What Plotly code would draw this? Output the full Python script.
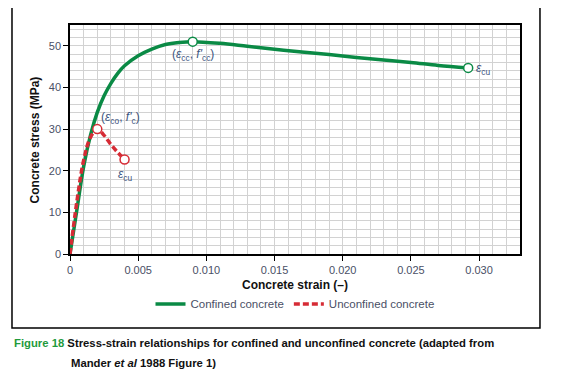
import plotly.graph_objects as go

# Confined concrete
conf_strain = [0, 0.0005, 0.001, 0.0015, 0.002, 0.0025, 0.003, 0.0035, 0.004, 0.005, 0.006, 0.007,
               0.008, 0.009, 0.011, 0.013, 0.015, 0.017, 0.019, 0.021, 0.023, 0.025, 0.027, 0.0292]
conf_stress = [0, 10.5, 21, 28.5, 34, 38, 41, 43.4, 45.2, 47.6, 49.2, 50.3,
               50.8, 51, 50.6, 49.9, 49.2, 48.5, 47.9, 47.2, 46.6, 46.0, 45.3, 44.7]
# Unconfined concrete
unconf_strain = [0, 0.0005, 0.001, 0.0015, 0.002, 0.0025, 0.003, 0.0035, 0.004]
unconf_stress = [0, 12.5, 22.5, 28, 30, 28.5, 26.3, 24.4, 22.7]

# Key points
conf_pts_x = [0.009, 0.0292]
conf_pts_y = [51, 44.7]
unconf_pts_x = [0.002, 0.004]
unconf_pts_y = [30, 22.7]

x_ticks = [0, 0.005, 0.010, 0.015, 0.020, 0.025, 0.030]
x_ticklabels = ["0", "0.005", "0.010", "0.015", "0.020", "0.025", "0.030"]
y_ticks = [0, 10, 20, 30, 40, 50]

GREEN = "#0a8a45"
RED = "#d62b35"
FONT = "Liberation Sans, Arial, sans-serif"
TICKC = "#4a4f66"
LABC = "#3d5580"

fig = go.Figure()
fig.add_trace(go.Scatter(x=conf_strain, y=conf_stress, mode="lines", name="Confined concrete",
                         line=dict(color=GREEN, width=3.5, shape="spline")))
fig.add_trace(go.Scatter(x=unconf_strain, y=unconf_stress, mode="lines", name="Unconfined concrete",
                         line=dict(color=RED, width=3.5, dash="6px,3px", shape="spline")))
fig.add_trace(go.Scatter(x=conf_pts_x, y=conf_pts_y, mode="markers", showlegend=False,
                         marker=dict(symbol="circle", size=9, color="white", line=dict(color=GREEN, width=1.5))))
fig.add_trace(go.Scatter(x=unconf_pts_x, y=unconf_pts_y, mode="markers", showlegend=False,
                         marker=dict(symbol="circle", size=9, color="white", line=dict(color=RED, width=1.5))))

ann_font = dict(family=FONT, size=12, color=LABC)
anns = [
    dict(x=conf_pts_x[0], y=conf_pts_y[0], xref="x", yref="y", text="(<i>ε</i><sub>cc</sub>, <i>f'</i><sub>cc</sub>)",
         showarrow=False, xanchor="center", yanchor="top", yshift=-3, font=ann_font),
    dict(x=conf_pts_x[1], y=conf_pts_y[1], xref="x", yref="y", text="<i>ε</i><sub>cu</sub>",
         showarrow=False, xanchor="left", yanchor="middle", xshift=6, yshift=-1, font=ann_font),
    dict(x=unconf_pts_x[0], y=unconf_pts_y[0], xref="x", yref="y", text="(<i>ε</i><sub>co</sub>, <i>f'</i><sub>c</sub>)",
         showarrow=False, xanchor="left", yanchor="bottom", xshift=2, yshift=1, font=ann_font),
    dict(x=unconf_pts_x[1], y=unconf_pts_y[1], xref="x", yref="y", text="<i>ε</i><sub>cu</sub>",
         showarrow=False, xanchor="center", yanchor="top", yshift=-6, font=ann_font),
    dict(x=0.5, y=-0.135, xref="paper", yref="paper", text="<b>Concrete strain (–)</b>", showarrow=False,
         xanchor="center", yanchor="middle", font=dict(family=FONT, size=12, color="#111")),
    dict(x=-0.078, y=0.5, xref="paper", yref="paper", text="<b>Concrete stress (MPa)</b>", showarrow=False,
         textangle=-90, xanchor="center", yanchor="middle", font=dict(family=FONT, size=12, color="#111")),
    dict(x=-0.1289, y=-0.3886, xref="paper", yref="paper",
         text="<b><span style='color:#1f9a3c'>Figure 18</span> Stress-strain relationships for confined and unconfined concrete (adapted from</b>",
         showarrow=False, xanchor="left", yanchor="middle", font=dict(family=FONT, size=11.3, color="#111")),
    dict(x=-0.002, y=-0.476, xref="paper", yref="paper",
         text="<b>Mander <i>et al</i> 1988 Figure 1)</b>",
         showarrow=False, xanchor="left", yanchor="middle", font=dict(family=FONT, size=11.3, color="#111")),
]

axis_common = dict(showline=True, linecolor="black", linewidth=1.5, mirror=True, zeroline=False,
                   gridcolor="#d2d2d2", gridwidth=1, ticks="outside", ticklen=5, tickcolor="black",
                   automargin=False, tickfont=dict(family=FONT, size=11, color=TICKC))

# page body has an 8px default margin; figure is sized/offset to compensate
fig.update_layout(
    width=554, height=373,
    margin=dict(l=62, r=42, t=17, b=127, autoexpand=False),
    paper_bgcolor="white", plot_bgcolor="white",
    font=dict(family=FONT, size=11, color=TICKC),
    xaxis=dict(range=[0, 0.033], tickvals=x_ticks, ticktext=x_ticklabels,
               minor=dict(dtick=0.001, showgrid=True, gridcolor="#d2d2d2", ticks=""), **axis_common),
    yaxis=dict(range=[0, 55], tickvals=y_ticks,
               minor=dict(dtick=2, showgrid=True, gridcolor="#d2d2d2", ticks=""), **axis_common),
    legend=dict(orientation="h", x=0.5, xanchor="center", y=-0.218, yanchor="middle",
                font=dict(family=FONT, size=11.5, color=TICKC), itemwidth=30, bgcolor="rgba(0,0,0,0)"),
    annotations=anns,
    shapes=[dict(type="rect", xref="paper", yref="paper", x0=-0.1289, x1=1.0444, y0=-0.3231, y1=1.083,
                 line=dict(color="black", width=1.5), fillcolor="rgba(0,0,0,0)", layer="below")],
    showlegend=True,
)

fig.write_html("out.html")
